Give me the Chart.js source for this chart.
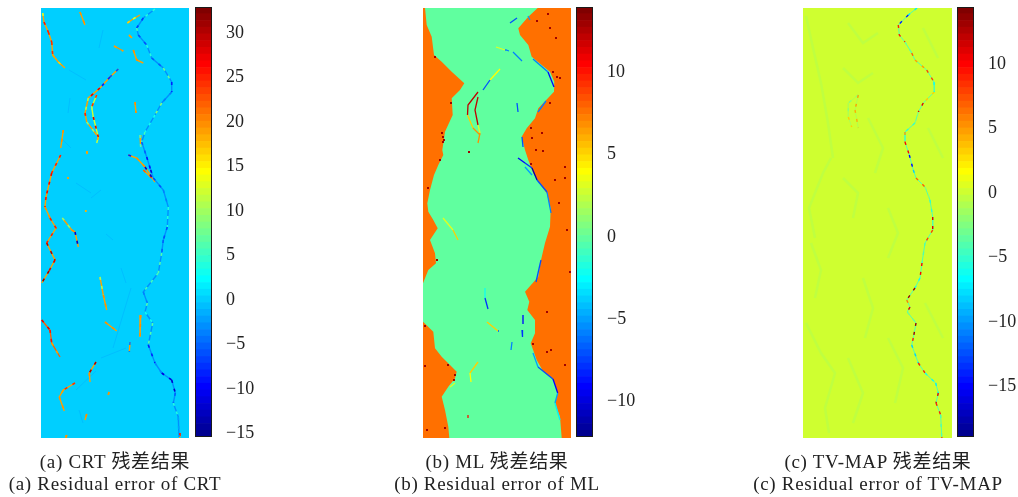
<!DOCTYPE html>
<html>
<head>
<meta charset="utf-8">
<title>Residual error</title>
<script src="https://cdn.jsdelivr.net/npm/chart.js@4"></script>
<style>
html, body { margin: 0; padding: 0; background: #fff; }
#page { position: relative; width: 1018px; height: 497px; overflow: hidden; }
canvas { position: absolute; }
canvas.image { filter: blur(0.4px); }
.cap { position: absolute; width: 320px; text-align: center; color: #222; white-space: nowrap; letter-spacing: 0.7px;
       font: 19px "Liberation Serif", "Noto Sans CJK SC", serif; }
</style>
</head>
<body>
<div id="page"></div>
<script>
// Colour ranges and ticks of the three colour bars
const crtRange = [-15.4, 32.9];
const mlRange = [-12.2, 14.0];
const tvRange = [-18.9, 14.4];
const crtTicks = [30, 25, 20, 15, 10, 5, 0, -5, -10, -15];
const mlTicks = [10, 5, 0, -5, -10];
const tvTicks = [10, 5, 0, -5, -10, -15];

// Flat residual of each region
const crtBackground = 0.0;
const mlRiver = 0.0;
const mlBank = 7.7;
const tvBackground = 0.3;

// River edges of the ML residual, [column, row]
const mlLeftEdge = [[2,0],[3.7,17],[8.7,28.7],[11,47],[18.7,53.7],[28.7,63.7],[41.3,75.3],[37,82],[28.7,90.3],[29.7,107],[22,123.7],[19.3,142],[20.3,147],[15.3,157],[11,167],[7,182],[4.3,195.3],[5.3,203.7],[10.3,212],[14.7,220.3],[7,232],[12,245.3],[13,255.3],[5.3,262],[0,275.3],[0,313.7],[10.3,323.7],[12,340.3],[18.7,348.7],[27,357],[33.7,363.7],[32,370.3],[25.3,378.7],[18.7,388.7],[22,402],[25.3,418.7],[26.3,430]];
const mlRightEdge = [[114.7,0],[105.3,8.7],[95.3,20.3],[97,27],[105.3,37],[108.7,48.7],[118.7,57],[127,63.7],[131.3,73.7],[131,83.7],[115.3,100.3],[112,110.3],[103.7,120.3],[98.7,128.7],[102,142],[105.3,152],[110.3,165.3],[115.3,173.7],[123.7,185.3],[127.7,200.3],[127,218.7],[122,235],[118,252],[115.3,268.7],[102,283.7],[106.3,293.7],[104.3,302],[112,312],[112,325.3],[107.7,335.3],[113.7,352],[120.3,363.7],[130.3,372],[134.7,385.3],[132,395.3],[137,408.7],[138.7,430]];

// Residual streaks, each point is [column, row, residual]; the first residual is the streak's base level
const crtStreaks = [
  [[1.7,5,19],[3,14,12],[7.3,24,26],[10.7,34,25],[11.7,47,24],[17.3,54,19],[24,60,17]],
  [[39,4,19],[44,17,20]],
  [[73,38,20],[82.3,43,19]],
  [[86.3,15,19],[92,11,17],[99,7,12]],
  [[114,1,-3],[102.3,10,4],[95.7,20,-7],[97.3,27,5],[105.7,37,-6],[110.7,50,4],[122.3,60,-5],[130.7,74,7],[130.7,84,-8],[120.7,95,-4],[114,107,8],[104,124,3],[100.7,134,5],[105.7,149,-5],[109.7,162,-9],[112.3,170,-11],[122.3,182,-6],[127.3,199,-4],[126.3,219,4],[122.3,232,-6],[120.7,245,-5],[117.3,265,6],[102.3,284,5],[106.3,295,-4],[104,304,6],[111.7,315,3],[107.3,337,6],[114,355,-8],[120.7,365,-3],[130.7,372,-11],[134.3,385,-12],[132.3,395,-5],[137.3,409,4],[138,429,-2]],
  [[22.3,122,19],[19.7,140,20]],
  [[19.7,147,19],[10.7,165,25],[5,189,27],[4,199,26],[9,210,20],[15,220,25],[5.7,235,25],[14,252,30],[8,263,28],[0.7,275,31]],
  [[0.7,312,22],[9,322,28],[10.7,335,26],[19,349,19]],
  [[59,269,19],[62.3,287,10],[65.7,302,20]],
  [[64,314,19],[75.7,323,20]],
  [[89,334,19],[88.3,344,-4]],
  [[99.7,307,19],[99,329,20]],
  [[55,354,19],[48.3,365,30],[49,374,20]],
  [[34,375,19],[22.3,382,24],[18.3,389,19],[23.3,403,20]],
  [[45.7,406,19],[44,412,20]],
  [[68,384,19],[67.3,387,20]],
  [[25.7,427,19],[25,430,20]],
  [[139,425,19],[138.5,433,26]],
  [[77.3,61,19],[69,69,-6],[59,80,-8],[47.3,90,28],[44,105,10],[45.7,114,25],[55.7,127,8]],
  [[55.7,87,12],[50.7,99,24],[52.3,109,10],[57.3,129,28],[55.7,135,19]],
  [[87.3,147,19],[95.7,150,-8],[104,159,20],[114,174,-12]],
  [[102.3,162,19],[110.7,170,22]],
  [[94,94,19],[95,105,20]],
  [[99,127,19],[99.7,139,5]],
  [[92.3,42,19],[95.7,52,20],[102.3,55,20]],
  [[88,27,19],[91,30,19]],
  [[21.3,210,19],[30.7,222,8],[34,224,20],[37.3,239,-12]],
  [[46,143,19],[46,146,19]],
  [[27,169,19],[27,171,19]],
  [[44.7,202,18],[44.7,204,18]]
];
const mlStreaks = [
  [[77,61,4],[67,72,4],[60,82,-7]],
  [[55,84,6],[45,97,12],[44.5,107,12],[50,120,5],[57,127,7]],
  [[55,89,9],[52,102,12],[55,117,12],[57,125,3],[55,135,7]],
  [[87,15,-7],[94,10,-7]],
  [[105,8,-8],[107,12,-5]],
  [[73,39,4],[82,42,3],[83,42,-6],[86,43,-6]],
  [[90,44,-7],[99,53,-6]],
  [[110,51,-5],[125,64,-6],[131,79,-9]],
  [[94,95,-7],[95,104,-7]],
  [[99,129,-10],[100,139,-7]],
  [[95,150,-9],[102,155,-9],[109,160,-8],[114,172,-11],[124,184,-7],[128,205,-6]],
  [[102,159,-4],[109,167,-5]],
  [[115,104,-4],[123,93,-6]],
  [[20,210,4],[30,222,3],[35,232,5]],
  [[62,280,6],[62,290,-2],[65,301,-8]],
  [[64,314,5],[75,323,5],[76,323,-7]],
  [[89,334,4],[88,342,-6]],
  [[100,307,-9],[100,316,-9]],
  [[99,322,-8],[99.5,329,-8]],
  [[110,345,-7],[115,359,-5],[130,371,-7],[134.7,385,-9],[132,395,-5],[137,412,-3]],
  [[118,252,-5],[113,274,-7]],
  [[55,354,6],[47,365,5],[48,374,4]],
  [[32,375,4],[27,379,3]],
  [[45,407,5],[45,410,10]]
];
const tvStreaks = [
  [[114,0,-4],[105.3,7,-7],[95.3,17,-14],[96.3,27,9],[102,34,9],[108.7,45,-3],[112,52,7],[123.7,62,5],[131,74,8],[131.3,84,-6],[120.3,95,3],[115.3,104,11],[112,115,-2],[102,124,-5],[102,134,5],[106.3,147,10],[110.3,162,-15],[113,170,-8],[122,179,7],[127,192,-2],[129.7,209,-5],[129.7,222,11],[122,235,8],[119,255,-4],[117,270,10],[112,280,-6],[103.7,292,13],[107,299,6],[104.3,304,11],[113,315,-3],[110.3,330,13],[108.7,337,9],[115.3,355,-8],[122,365,9],[132.7,375,-6],[135.3,385,-7],[133,395,11],[137.7,407,9],[138.7,429,-4],[139,430,8]],
  [[55.3,87,-1],[52,102,5],[55.3,120,4]],
  [[55.3,87,-1],[45.3,95,-2],[45.3,109,-2],[48.7,119,3]]
];

// Faint structure barely off the flat level
const crtFaint = [
  [[62,22,-1],[58,40,-1]],[[29,90,-1],[27,105,-1]],[[20,130,-1],[30,140,-1]],[[50,190,-1],[60,182,-1]],
  [[28,62,-1],[45,72,-1]],[[65,226,-1],[72,232,-1]],[[35,382,-1],[55,363,-1]],[[90,280,-1],[72,340,-1]],
  [[60,350,-1],[85,340,-1]],[[38,402,-1],[42,415,-1]],[[80,260,-1],[85,275,-1]],[[35,175,-1],[50,185,-1]]
];
const tvFaint = [
  [[3,8,-0.3],[10,40,-0.3],[18,75,-0.3],[25,115,-0.3],[30,150,-0.3]],
  [[28,150,-0.3],[20,165,-0.3],[6,200,-0.3],[12,230,-0.3]],
  [[8,235,-0.3],[18,262,-0.3],[12,290,-0.3]],
  [[3,315,-0.3],[18,345,-0.3],[32,365,-0.3],[22,400,-0.3],[26,425,-0.3]],
  [[45,15,-0.3],[60,35,-0.3],[75,25,-0.3]],[[40,60,-0.3],[55,75,-0.3],[70,65,-0.3]],
  [[65,110,-0.3],[80,140,-0.3],[72,165,-0.3]],[[40,170,-0.3],[55,185,-0.3],[50,210,-0.3]],
  [[85,200,-0.3],[95,225,-0.3],[85,250,-0.3]],[[60,270,-0.3],[70,300,-0.3],[62,330,-0.3]],
  [[85,330,-0.3],[100,360,-0.3],[92,395,-0.3]],[[45,350,-0.3],[60,385,-0.3],[50,415,-0.3]],
  [[120,20,-0.3],[135,50,-0.3]],[[125,120,-0.3],[140,150,-0.3]],[[122,295,-0.3],[140,330,-0.3]]
];

// Isolated hot cells of the ML residual, [column, row]
const mlSpeckles = [[114,13],[125,6],[127,20],[127,95],[119,125],[120,143],[113,142],[142,159],[136,195],[144,222],[134,69],[137,70],[12,49],[20,129],[20,134],[28,95],[17,152],[46,144],[142,170],[132,172],[109,130],[130,64],[14,252],[2,318],[25,357],[32,367],[110,336],[124,304],[147,264],[142,357],[124,344],[128,342],[2,358],[133,30],[108,120],[108,156],[5,180],[19,125],[21,132],[4,422],[22,420],[31,372]];

const W = 148;
const H = 430;

// jet colour map with 64 steps
function jet(t) {
  const q = (Math.min(63, Math.max(0, Math.floor(t * 64))) + 1) / 64;
  const c = v => Math.round(255 * Math.min(1, Math.max(0, 1.5 - Math.abs(4 * q - v))));
  return 'rgb(' + c(3) + ',' + c(2) + ',' + c(1) + ')';
}

function colourOf(value, range) {
  return jet((value - range[0]) / (range[1] - range[0]));
}

function addCanvas(left, top, width, height) {
  const canvas = document.createElement('canvas');
  canvas.width = width;
  canvas.height = height;
  canvas.style.left = left + 'px';
  canvas.style.top = top + 'px';
  document.getElementById('page').appendChild(canvas);
  return canvas;
}

function toPoints(list) {
  return list.map(p => ({ x: p[0], y: p[1] }));
}

function areaDataset(edge, colour, from, order) {
  return {
    data: toPoints(edge),
    showLine: true,
    borderWidth: 0,
    pointRadius: 0,
    backgroundColor: colour,
    fill: { target: { value: from } },
    order: order
  };
}

function streakDatasets(streaks, range, width, order) {
  return streaks.map(streak => ({
    data: toPoints(streak),
    showLine: true,
    fill: false,
    borderWidth: width,
    pointRadius: 0,
    borderColor: colourOf(streak[0][2], range),
    order: order
  }));
}

// Same streaks again, coloured per point, broken up when a dash is given
function mottleDatasets(streaks, range, width, dash, order) {
  return streaks.map(streak => ({
    data: toPoints(streak),
    showLine: true,
    fill: false,
    borderWidth: width,
    pointRadius: 0,
    borderDash: dash,
    segment: { borderColor: ctx => colourOf(streak[ctx.p1DataIndex][2], range) },
    order: order
  }));
}

// Draw one residual image
function drawImage(left, width, datasets) {
  const canvas = addCanvas(left, 8, width, H);
  canvas.className = 'image';
  new Chart(canvas, {
    type: 'scatter',
    data: { datasets: datasets },
    options: {
      indexAxis: 'y',
      responsive: false,
      animation: false,
      events: [],
      layout: { autoPadding: false },
      plugins: { legend: { display: false }, tooltip: { enabled: false } },
      scales: {
        x: { type: 'linear', min: 0, max: width, display: false },
        y: { type: 'linear', min: 0, max: H, reverse: true, display: false }
      }
    }
  });
}

// Draw one colour bar with its ticks
function drawColourBar(left, range, ticks) {
  const step = (range[1] - range[0]) / 64;
  const datasets = [];
  for (let i = 0; i < 64; i++) {
    datasets.push({
      data: [[range[0] + i * step, range[0] + (i + 1) * step]],
      backgroundColor: jet((i + 0.5) / 64),
      barPercentage: 1,
      categoryPercentage: 1,
      borderWidth: 0
    });
  }
  new Chart(addCanvas(left, 0, 80, 460), {
    type: 'bar',
    data: { labels: ['level'], datasets: datasets },
    options: {
      responsive: false,
      animation: false,
      events: [],
      layout: { padding: { top: 7, bottom: 23 }, autoPadding: false },
      plugins: { legend: { display: false }, tooltip: { enabled: false } },
      scales: {
        x: { display: false, stacked: true },
        y: {
          position: 'right',
          min: range[0],
          max: range[1],
          afterBuildTicks: scale => { scale.ticks = ticks.map(v => ({ value: v })); },
          afterFit: scale => { scale.width = 63; scale.paddingTop = 0; scale.paddingBottom = 0; },
          border: { display: false },
          grid: { drawOnChartArea: false, tickLength: -4, tickWidth: 1.5, tickColor: '#1a1a1a' },
          ticks: {
            padding: 18,
            color: '#222',
            autoSkip: false,
            font: { family: '"Liberation Serif", serif', size: 18 },
            callback: value => String(value).replace('-', '\u2212')
          }
        }
      }
    },
    plugins: [{
      id: 'barFrame',
      afterDraw(chart) {
        const a = chart.chartArea;
        chart.ctx.save();
        chart.ctx.strokeStyle = '#1a1a1a';
        chart.ctx.lineWidth = 1;
        chart.ctx.strokeRect(a.left + 0.5, a.top + 0.5, a.right - a.left - 1, a.bottom - a.top - 1);
        chart.ctx.restore();
      }
    }]
  });
}

function addCaption(centre, top, text) {
  const div = document.createElement('div');
  div.className = 'cap';
  div.style.left = (centre - 160) + 'px';
  div.style.top = top + 'px';
  div.textContent = text;
  document.getElementById('page').appendChild(div);
}

// (a) CRT
drawImage(41, W, [
  areaDataset([[W, 0], [W, H]], colourOf(crtBackground, crtRange), 0, 5),
  ...streakDatasets(crtFaint, crtRange, 1, 4),
  ...mottleDatasets(crtStreaks, crtRange, 1.6, [3, 6], 1),
  ...streakDatasets(crtStreaks, crtRange, 1.4, 2)
]);
drawColourBar(195, crtRange, crtTicks);

// (b) ML
drawImage(423, W, [
  areaDataset([[W, 0], [W, H]], colourOf(mlRiver, mlRange), 0, 5),
  areaDataset(mlLeftEdge, colourOf(mlBank, mlRange), 0, 4),
  areaDataset(mlRightEdge, colourOf(mlBank, mlRange), W, 4),
  ...mottleDatasets(mlStreaks, mlRange, 1.3, [], 1),
  {
    data: toPoints(mlSpeckles),
    pointStyle: 'rect',
    pointRadius: 1.4,
    pointBorderWidth: 0,
    pointBackgroundColor: colourOf(12.8, mlRange),
    order: 0
  }
]);
drawColourBar(576, mlRange, mlTicks);

// (c) TV-MAP
drawImage(803, 149, [
  areaDataset([[149, 0], [149, H]], colourOf(tvBackground, tvRange), 0, 5),
  ...streakDatasets(tvFaint, tvRange, 2.5, 4),
  ...mottleDatasets(tvStreaks, tvRange, 1.4, [3, 6], 1),
  ...streakDatasets(tvStreaks, tvRange, 1, 2)
]);
drawColourBar(957, tvRange, tvTicks);

addCaption(115, 446, '(a) CRT 残差结果');
addCaption(115, 473, '(a) Residual error of CRT');
addCaption(497, 446, '(b) ML 残差结果');
addCaption(497, 473, '(b) Residual error of ML');
addCaption(878, 446, '(c) TV-MAP 残差结果');
addCaption(878, 473, '(c) Residual error of TV-MAP');
</script>
</body>
</html>
